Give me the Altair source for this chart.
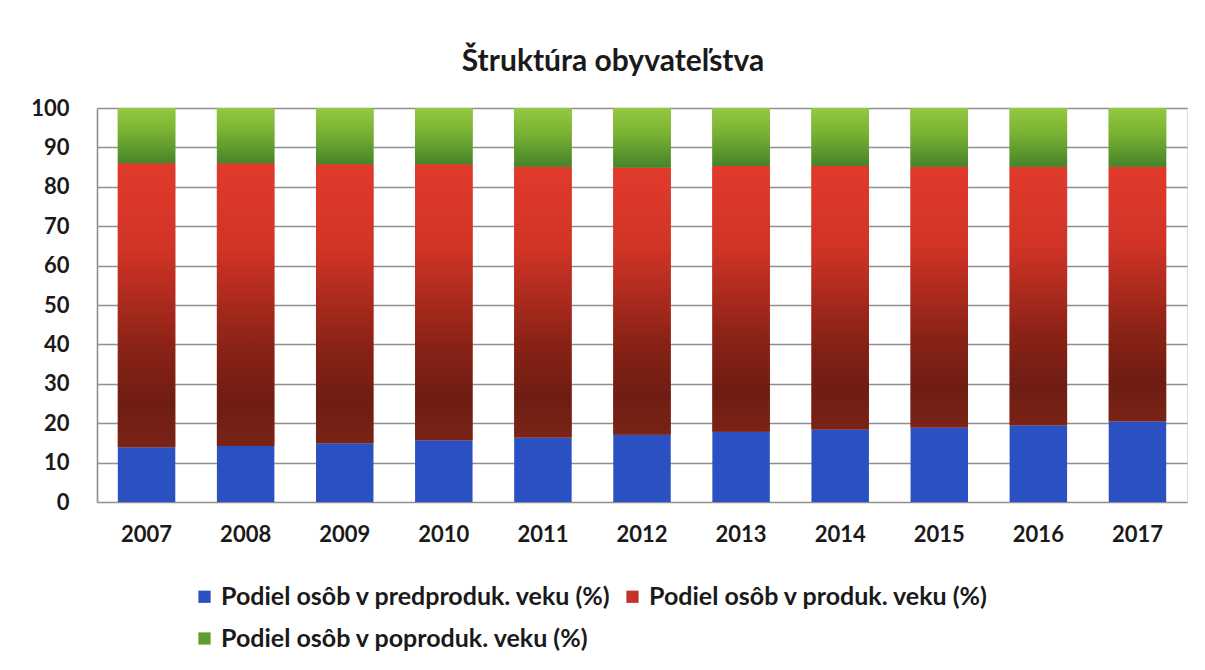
import altair as alt
import pandas as pd

years = ["2007", "2008", "2009", "2010", "2011", "2012", "2013", "2014", "2015", "2016", "2017"]
pred = [13.9, 14.2, 14.9, 15.7, 16.4, 17.1, 17.8, 18.4, 18.9, 19.5, 20.5]
post = [14.0, 14.0, 14.3, 14.3, 14.9, 15.1, 14.7, 14.7, 14.9, 14.9, 14.9]
prod = [round(100 - a - b, 1) for a, b in zip(pred, post)]

series = [
    "Podiel osôb v predproduk. veku (%)",
    "Podiel osôb v produk. veku (%)",
    "Podiel osôb v poproduk. veku (%)",
]

rows = []
for i, y in enumerate(years):
    start = 0.0
    for s, v in zip(series, [pred[i], prod[i], post[i]]):
        rows.append({"year": y, "series": s, "value": v, "start": start, "end": start + v})
        start += v
df = pd.DataFrame(rows)

FONT = "Lato"

x_enc = alt.X("year:N", sort=years,
              scale=alt.Scale(paddingInner=0.42, paddingOuter=0.21),
              axis=alt.Axis(title=None, labelAngle=0, ticks=False, domain=False,
                            labelPadding=22, labelFontSize=22, labelFont=FONT,
                            labelFontWeight="bold", labelColor="#1a1a1a", grid=False))
y_enc = alt.Y("start:Q", scale=alt.Scale(domain=[0, 100], nice=False),
              axis=alt.Axis(title=None, values=list(range(0, 101, 10)), ticks=False,
                            labelPadding=28, labelFontSize=22, labelFont=FONT,
                            labelFontWeight="bold", labelColor="#1a1a1a",
                            grid=True, gridColor="#8f8f8f", gridWidth=1.6,
                            domain=True, domainColor="#8f8f8f", domainWidth=1.6))

base = alt.Chart(df).encode(x=x_enc, y=y_enc, y2="end:Q")

solid = base.mark_bar().encode(
    color=alt.Color("series:N", sort=series,
                    scale=alt.Scale(domain=series, range=["#2a50c2", "#c2342a", "#5f9e2e"]),
                    legend=alt.Legend(title=None, orient="none", legendX=95, legendY=476,
                                      direction="horizontal",
                                      columns=2, columnPadding=8, rowPadding=16,
                                      symbolType="square", symbolSize=150,
                                      symbolStrokeWidth=0, labelFont=FONT,
                                      labelFontSize=25, labelFontWeight="bold",
                                      labelColor="#1a1a1a", labelLimit=600))
)

red_grad = alt.Gradient(
    gradient="linear", x1=0, x2=0, y1=0, y2=1,
    stops=[alt.GradientStop(color="#e13a2c", offset=0),
           alt.GradientStop(color="#d13426", offset=0.3),
           alt.GradientStop(color="#8a2216", offset=0.65),
           alt.GradientStop(color="#6e1d13", offset=0.85),
           alt.GradientStop(color="#7a2317", offset=1)])
green_grad = alt.Gradient(
    gradient="linear", x1=0, x2=0, y1=0, y2=1,
    stops=[alt.GradientStop(color="#94c940", offset=0),
           alt.GradientStop(color="#78b032", offset=0.45),
           alt.GradientStop(color="#46842a", offset=1)])

red = base.mark_bar(color=red_grad).transform_filter(alt.datum.series == series[1])
green = base.mark_bar(color=green_grad).transform_filter(alt.datum.series == series[2])

chart = alt.layer(solid, red, green).properties(
    width=1090, height=394,
    autosize=alt.AutoSizeParams(type="none"),
    padding={"left": 89, "top": 100, "right": 10, "bottom": 150},
    title=alt.TitleParams("Štruktúra obyvateľstva", font=FONT, fontSize=30,
                          fontWeight="bold", color="#1a1a1a", anchor="middle",
                          dx=-29, offset=20),
).configure_view(stroke=None).configure(background="white")

chart.save("out.html", embed_options={"renderer": "svg", "actions": False})
